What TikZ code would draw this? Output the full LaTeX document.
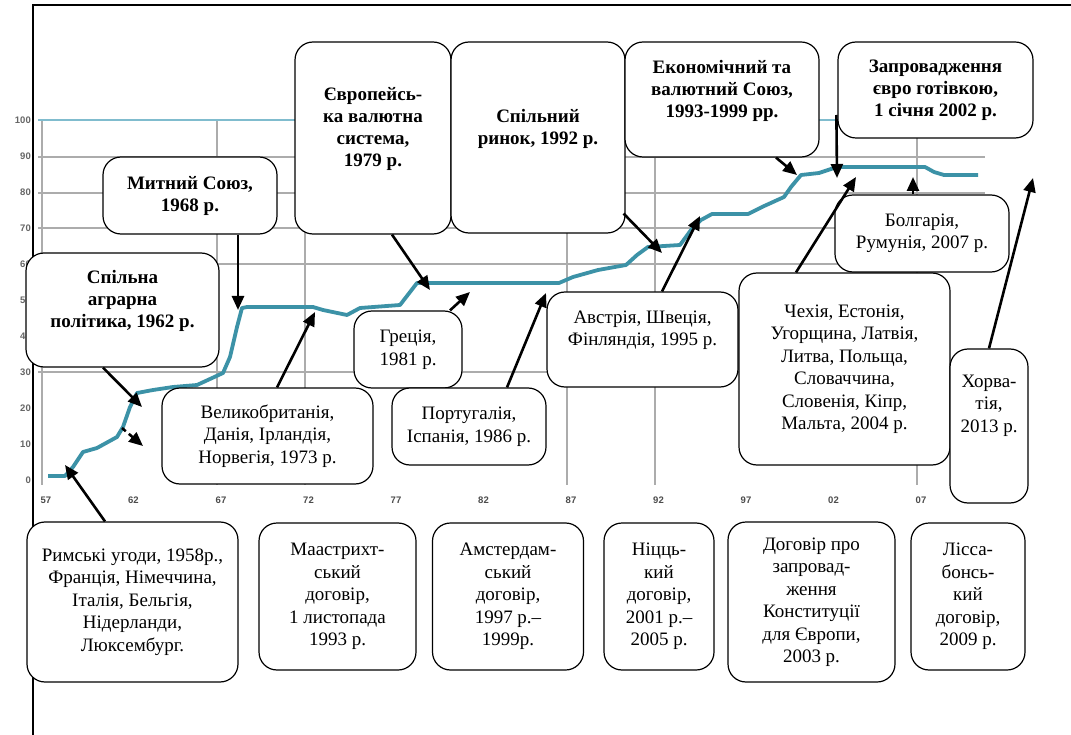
\documentclass[tikz,border=0pt]{standalone}
\usepackage{fontspec}
\setmainfont{Liberation Serif}
\setsansfont{Liberation Sans}
\usetikzlibrary{arrows.meta,calc}
\definecolor{crv}{RGB}{60,146,167}
\definecolor{topl}{RGB}{128,188,206}
\definecolor{grd}{RGB}{172,172,172}
\begin{document}
\begin{tikzpicture}[x=1pt,y=-1pt,
 box/.style={draw=black,line width=1.2pt,fill=white,rounded corners=18pt,inner sep=0pt,align=center,font=\fontsize{19}{22.5}\selectfont},
 bbox/.style={box,font=\fontsize{19}{22}\selectfont\bfseries},
 arr/.style={line width=2.6pt,-{Triangle[length=14pt,width=12pt]}},
 dasharr/.style={arr,dash pattern=on 5pt off 4pt},
 gridl/.style={draw=grd,line width=1.4pt},
 ylab/.style={font=\sffamily\bfseries\fontsize{9.5}{10}\selectfont,text=black!60,anchor=east,inner sep=0pt},
 xlab/.style={font=\sffamily\bfseries\fontsize{9.5}{10}\selectfont,text=black!70,inner sep=0pt},
 crvline/.style={draw=crv,line width=3.8pt,line join=round}
]
\useasboundingbox (0,0) rectangle (1071,735);
\fill[white] (0,0) rectangle (1071,735);
% frame
\draw[line width=1.2pt] (33,735) -- (33,5);
\draw[line width=2pt] (32.4,5) -- (1071,5);
% grid
\foreach \xx in {42,217,305,567,655,917} \draw[gridl] (\xx,120) -- (\xx,485);
\foreach \yy in {157,193,228,264,372} \draw[gridl] (38,\yy) -- (985,\yy);
\draw[draw=topl,line width=1.4pt] (38,120) -- (985,120);
% axis labels
\foreach \v [count=\i from 0] in {100,90,80,70,60,50,40,30,20,10,0}
  \node[ylab] (yl\i) at (31,{120+36*\i}) {\v};
\foreach \v [count=\i from 0] in {57,62,67,72,77,82,87,92,97,02,07}
  \node[xlab] (xl\i) at ({46+87.5*\i},500) {\v};
% curve
\draw[crvline] (48,476) -- (65,476) -- (73,467) -- (83,452) -- (97,448) -- (117,437) -- (123,427)
  -- (130,407) -- (137,393) -- (153,390) -- (173,387) -- (197,385) -- (223,373) -- (230,357)
  -- (237,327) -- (242,308) -- (247,307) -- (313,307) -- (323,310) -- (347,315) -- (360,308)
  -- (400,305) -- (417,283) -- (430,283) -- (559,283) -- (573,277) -- (598,270) -- (626,265)
  -- (637,255) -- (648,247) -- (680,245) -- (691,230) -- (701,220) -- (712,214) -- (748,214)
  -- (762,207) -- (784,197) -- (791,187) -- (801,175) -- (819,173) -- (834,168) -- (840,167)
  -- (925,167) -- (934,172) -- (944,175) -- (978,175);
% upper boxes (bold)
\node[bbox,minimum width=193pt,minimum height=114pt] (agr) at (122.5,310) {Спільна\\аграрна\\політика, 1962 р.\\\mbox{}};
\node[bbox,minimum width=174pt,minimum height=77pt] (mytn) at (190,195.5) {Митний Союз,\\1968 р.};
\node[bbox,minimum width=156pt,minimum height=192pt] (evro) at (373,138) {Європейсь-\\ка валютна\\система,\\1979 р.\\\mbox{}};
\node[bbox,minimum width=174pt,minimum height=191pt] (spr) at (538,137.5) {Спільний\\ринок, 1992 р.\\\mbox{}};
\node[bbox,minimum width=194pt,minimum height=115pt] (ekon) at (722,99.5) {Економічний та\\валютний Союз,\\1993-1999 рр.\\\mbox{}};
\node[bbox,minimum width=195pt,minimum height=96pt] (zapr) at (935.5,90) {Запровадження\\євро готівкою,\\1 січня 2002 р.};
% accession boxes
\node[box,minimum width=108pt,minimum height=77pt] (grec) at (408,349.5) {Греція,\\1981 р.};
\node[box,minimum width=211pt,minimum height=96pt] (vbr) at (267.5,436) {Великобританія,\\Данія, Ірландія,\\Норвегія, 1973 р.};
\node[box,minimum width=154pt,minimum height=77pt] (port) at (469,426.5) {Португалія,\\Іспанія, 1986 р.};
\node[box,minimum width=191pt,minimum height=95pt] (avst) at (642.5,339.5) {Австрія, Швеція,\\Фінляндія, 1995 р.\\\mbox{}};
\node[box,minimum width=211pt,minimum height=192pt] (chex) at (844.5,369) {Чехія, Естонія,\\Угорщина, Латвія,\\Литва, Польща,\\Словаччина,\\Словенія, Кіпр,\\Мальта, 2004 р.};
\node[box,minimum width=174pt,minimum height=77pt] (bolg) at (922,233.5) {Болгарія,\\Румунія, 2007 р.};
\node[box,minimum width=78pt,minimum height=154pt] (horv) at (989,426) {Хорва-\\тія,\\2013 р.\\\mbox{}\\\mbox{}};
% treaty boxes
\node[box,minimum width=211pt,minimum height=160pt] (rym) at (132.5,602) {Римські угоди, 1958р.,\\Франція, Німеччина,\\Італія, Бельгія,\\Нідерланди,\\Люксембург.};
\node[box,minimum width=157pt,minimum height=147pt] (maas) at (337.5,596.5) {Маастрихт-\\ський\\договір,\\1 листопада\\1993 р.};
\node[box,minimum width=151pt,minimum height=147pt] (amst) at (508,596.5) {Амстердам-\\ський\\договір,\\1997 р.–\\1999р.};
\node[box,minimum width=110pt,minimum height=147pt] (nicc) at (659,596.5) {Ніцць-\\кий\\договір,\\2001 р.–\\2005 р.};
\node[box,minimum width=167pt,minimum height=160pt] (dogo) at (811.5,602) {Договір про\\запровад-\\ження\\Конституції\\для Європи,\\2003 р.};
\node[box,minimum width=114pt,minimum height=147pt] (liss) at (968,596.5) {Лісса-\\бонсь-\\кий\\договір,\\2009 р.};
% arrow targets
\coordinate (tA) at (142,407);
\coordinate (dS) at (122,428);
\coordinate (dE) at (143,446);
\coordinate (tC) at (238,310);
\coordinate (tD) at (315,312);
\coordinate (tE) at (430,290);
\coordinate (tF) at (470,292);
\coordinate (tG) at (546,293);
\coordinate (tH) at (662,253);
\coordinate (tI) at (700,216);
\coordinate (tJ) at (797,175);
\coordinate (tK) at (837,178);
\coordinate (tL) at (856,177);
\coordinate (tM) at (913,177);
\coordinate (tN) at (1033,178);
\coordinate (tO) at (65,465);
% arrows
\draw[arr] ([xshift=-19.5pt]agr.south) -- (tA);
\draw[dasharr] (dS) -- (dE);
\draw[arr] ([xshift=48pt]mytn.south) -- (tC);
\draw[arr] ([xshift=9.5pt]vbr.north) -- (tD);
\draw[arr] ([xshift=19pt]evro.south) -- (tE);
\draw[arr] ([xshift=42pt]grec.north) -- (tF);
\draw[arr] ([xshift=38pt]port.north) -- (tG);
\draw[arr] ([xshift=-2pt,yshift=20pt]spr.south east) -- (tH);
\draw[arr] ([xshift=19.5pt]avst.north) -- (tI);
\draw[arr] ([xshift=54pt]ekon.south) -- (tJ);
\draw[arr] ([xshift=-1pt,yshift=-25pt]zapr.west) -- (tK);
\draw[arr] ([xshift=-48.5pt]chex.north) -- (tL);
\draw[arr] ([xshift=-9pt]bolg.north) -- (tM);
\draw[arr] (horv.north) -- (tN);
\draw[arr] ([xshift=-27.5pt]rym.north) -- (tO);
\end{tikzpicture}
\end{document}
